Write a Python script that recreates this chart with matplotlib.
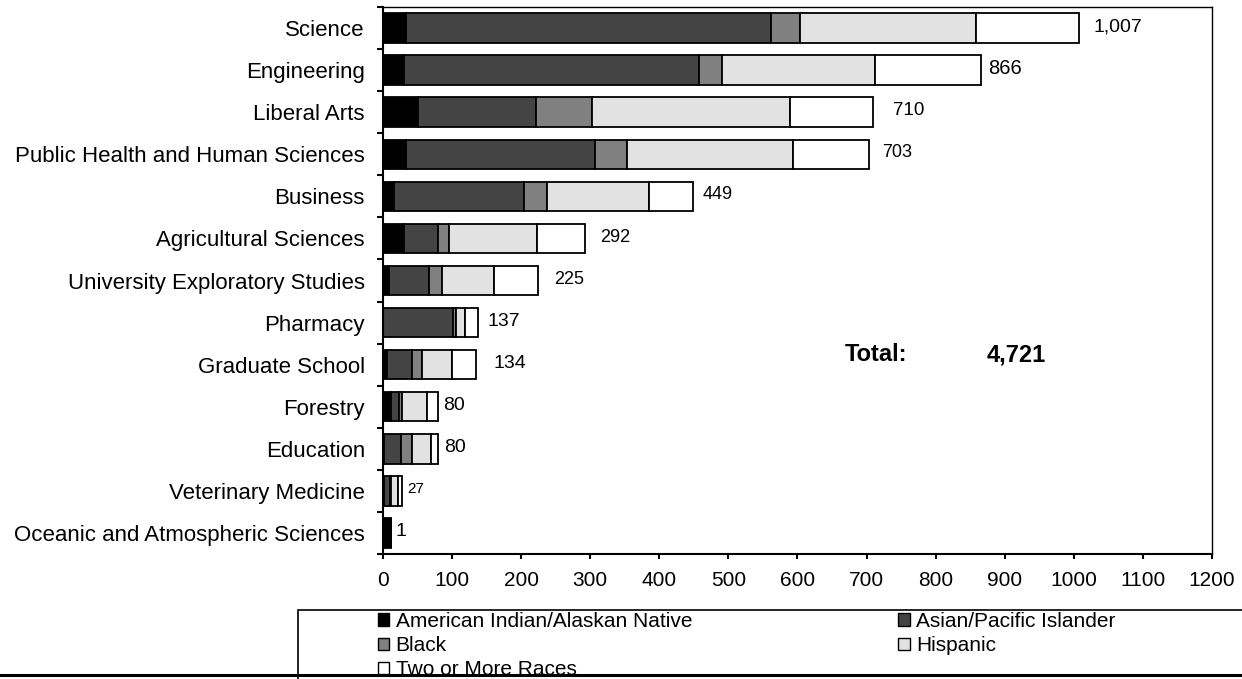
import numpy as np
import matplotlib
matplotlib.use('Agg')
import matplotlib.pyplot as plt
from matplotlib.patches import Patch, Rectangle
from matplotlib.lines import Line2D

plt.rcParams['font.family'] = ['Liberation Sans', 'DejaVu Sans']

# data
colleges = ['Science', 'Engineering', 'Liberal Arts', 'Public Health and Human Sciences',
            'Business', 'Agricultural Sciences', 'University Exploratory Studies',
            'Pharmacy', 'Graduate School', 'Forestry', 'Education',
            'Veterinary Medicine', 'Oceanic and Atmospheric Sciences']
am_indian = [34, 30, 50, 34, 16, 31, 9, 0, 6, 12, 2, 1, 11]
asian = [527, 427, 172, 273, 188, 48, 58, 101, 36, 11, 24, 9, 0]
black = [42, 34, 80, 46, 34, 16, 18, 4, 15, 5, 16, 1, 0]
hispanic = [255, 221, 287, 241, 147, 128, 76, 14, 43, 35, 28, 10, 0]
two_more = [149, 154, 121, 109, 64, 69, 64, 18, 34, 17, 10, 6, 0]
total_labels = ['1,007', '866', '710', '703', '449', '292', '225',
                '137', '134', '80', '80', '27', '1']
grand_total = '4,721'

series_names = ['American Indian/Alaskan Native', 'Asian/Pacific Islander',
                'Black', 'Hispanic', 'Two or More Races']
series = [am_indian, asian, black, hispanic, two_more]
colors = ['#000000', '#444444', '#808080', '#e2e2e2', '#ffffff']

# label look (offsets in px from bar end, font sizes)
label_dx = [15, 7, 20, 13, 9, 15, 16, 10, 18, 5, 6, 6, 5]
label_fs = [14, 14.5, 13.5, 13, 13, 13, 13, 14, 14, 14, 14, 11, 14]

fig = plt.figure(figsize=(12.42, 6.79), dpi=100)
ax = fig.add_axes([383 / 1242, 1 - 554 / 679, 829 / 1242, 547 / 679])

y = np.arange(len(colleges))
left = np.zeros(len(colleges))
for name, vals, c in zip(series_names, series, colors):
    vals = np.array(vals, dtype=float)
    ax.barh(y, vals, left=left, height=0.7, color=c, edgecolor='black',
            linewidth=1.3, label=name)
    left += vals

for i, (lab, tot) in enumerate(zip(total_labels, left)):
    ax.annotate(lab, (tot, i), xytext=(label_dx[i] * 0.72, 1),
                textcoords='offset points', va='center', ha='left',
                fontsize=label_fs[i])

ax.set_xlim(0, 1200)
ax.set_ylim(len(colleges) - 0.5, -0.5)
ax.set_xticks(np.arange(0, 1201, 100))
ax.set_yticks(y)
ax.set_yticklabels(colleges)
ax.set_yticks(np.arange(-0.5, len(colleges), 1), minor=True)
ax.tick_params(axis='y', which='major', length=0, pad=13, labelsize=16)
ax.tick_params(axis='y', which='minor', length=4.3, width=1.5, direction='out')
ax.tick_params(axis='x', length=3.6, width=1.5, direction='out', pad=9, labelsize=15)
for s in ['left', 'bottom']:
    ax.spines[s].set_linewidth(1.5)
for s in ['top', 'right']:
    ax.spines[s].set_linewidth(1.0)

ax.text(0.557, 0.364, 'Total:', transform=ax.transAxes, fontsize=17,
        fontweight='bold', va='center', ha='left')
ax.text(0.7286, 0.364, grand_total, transform=ax.transAxes, fontsize=17,
        fontweight='bold', va='center', ha='left')

# legend box and page line
fig.add_artist(Rectangle((298 / 1242, -0.05), 0.8, 0.05 + 1 - 610 / 679,
                         transform=fig.transFigure, fill=False,
                         edgecolor='black', linewidth=1.2))
fig.add_artist(Line2D([0, 1], [1 - 675 / 679] * 2, transform=fig.transFigure,
                      color='black', linewidth=2.2))

handles = [Patch(facecolor=c, edgecolor='black', linewidth=1.0) for c in colors]
order = [0, 2, 4, 1, 3]
fig.legend([handles[k] for k in order], [series_names[k] for k in order],
           loc='upper left', bbox_to_anchor=(378 / 1242, 1 - 612 / 679),
           ncol=2, frameon=False, fontsize=15, handlelength=0.55,
           handleheight=0.55, handletextpad=0.3, labelspacing=0.25,
           columnspacing=9.9, borderpad=0, borderaxespad=0)

fig.savefig('out.png', dpi=100)
